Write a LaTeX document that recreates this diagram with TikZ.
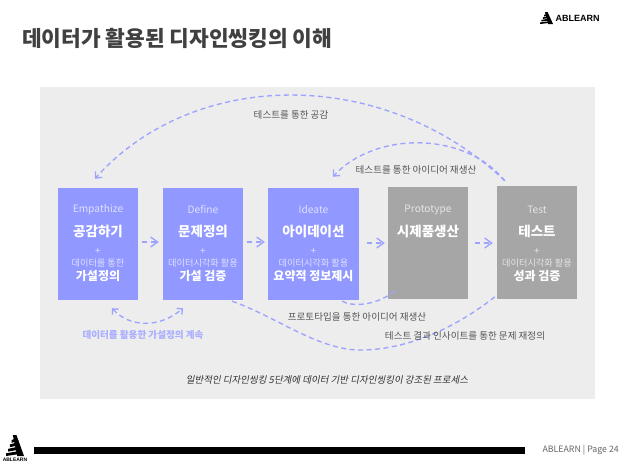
\documentclass[tikz,border=0pt]{standalone}
\usepackage{fontspec}
\usetikzlibrary{arrows.meta}
\setmainfont{Noto Sans CJK KR}
\newfontfamily\cjkit[FakeSlant=0.2]{Noto Sans CJK KR}
\newfontfamily\latin{Liberation Sans}
\definecolor{boxblue}{HTML}{9198FF}
\definecolor{boxgray}{HTML}{A6A6A6}
\definecolor{panel}{HTML}{EDEDED}
\definecolor{dashblue}{HTML}{9DA3FF}
\definecolor{softblue}{HTML}{A9AEFF}
\definecolor{labeltxt}{HTML}{555555}
\newcommand\ablogomark{%
  \fill[black] (0.38,0) -- (0.58,0) -- (1,1) -- (0.62,1) -- cycle;
  \foreach \a in {0.22,0.43,0.64,0.85}{
    \fill[black] ({0.42-0.48*\a},{\a+0.02}) -- (0.55,{\a-0.06}) -- (0.7,{\a+0.06}) -- ({0.42-0.48*\a},{\a+0.15}) -- cycle;
  }%
}
\tikzset{
  stagebox/.style={draw=none,minimum height=112pt,inner sep=0pt,text=white},
  bluebox/.style={stagebox,fill=boxblue,minimum width=80pt},
  graybox/.style={stagebox,fill=boxgray,minimum width=80pt},
  flow/.style={draw=dashblue,line width=1.35pt,dash pattern=on 5pt off 3.5pt},
  tipflow/.style={flow,-{Straight Barb[length=7pt,width=10pt,line width=1.35pt]}},
  tiparc/.style={flow,-{Straight Barb[length=5pt,width=9pt,line width=1.35pt]}},
  tipboth/.style={flow,{Straight Barb[length=4pt,width=8pt,line width=1.35pt]}-{Straight Barb[length=4pt,width=8pt,line width=1.35pt]}},
  note/.style={text=labeltxt,font=\fontsize{9.55}{11}\selectfont,inner sep=0pt},
  eng/.style={font=\fontsize{10.2}{12}\selectfont,inner sep=0pt,text=white,text opacity=0.7},
  head/.style={font=\fontsize{13.5}{15}\selectfont\bfseries,text=white,inner sep=0pt},
  plus/.style={font=\fontsize{10}{11}\selectfont,inner sep=0pt,text=white,text opacity=0.7},
  sub/.style={font=\fontsize{9.2}{11}\selectfont,inner sep=0pt,text=white,text opacity=0.7},
  key/.style={font=\fontsize{12}{14}\selectfont\bfseries,text=white,inner sep=0pt},
  logoword/.style={font=\latin\bfseries,text=black,inner sep=0pt}
}
\begin{document}
\begin{tikzpicture}[x=1pt,y=-1pt]
\useasboundingbox (0,0) rectangle (628,467);
\fill[white] (0,0) rectangle (628,467);
\fill[panel] (40,87) rectangle (595,399);
\node[anchor=west,inner sep=0pt,text=black!75,font=\fontsize{21.4}{24}\selectfont\bfseries] (title) at (22,38) {데이터가 활용된 디자인씽킹의 이해};
% logo top
\begin{scope}[shift={(540,12)},x=13pt,y=-12pt]
  \ablogomark
\end{scope}
\node[logoword,anchor=west,font=\latin\bfseries\fontsize{9}{10}\selectfont] (logotop) at (555.5,18.5) {ABLEARN};
% stages
\node[bluebox] (e) at (98,244) {};
\node[bluebox] (d) at (203,244) {};
\node[bluebox,minimum width=91pt] (i) at (313.5,244) {};
\node[graybox] (p) at (428,243) {};
\node[graybox,minimum height=113pt] (t) at (537,242.5) {};
\foreach \n/\cx/\en/\hd in {e/98/Empathize/공감하기,d/203/Define/문제정의,i/313.5/Ideate/아이데이션,p/428/Prototype/시제품생산,t/537/Test/테스트}{
  \node[eng] at (\cx,209.5) {\en};
  \node[head] at (\cx,231) {\hd};
}
\foreach \cx/\sb/\ky in {98/데이터를 통한/가설정의,203/데이터시각화 활용/가설 검증,313.5/데이터시각화 활용/요약적 정보제시,537/데이터시각화 활용/성과 검증}{
  \node[plus] at (\cx,251.5) {+};
  \node[sub] at (\cx,263) {\sb};
  \node[key] at (\cx,276) {\ky};
}
% forward arrows
\draw[tipflow,shorten <=4pt,shorten >=4pt] ([yshift=2pt]e.east) -- ([yshift=2pt]d.west);
\draw[tipflow,shorten <=4pt,shorten >=3pt] ([yshift=2pt]d.east) -- ([yshift=2pt]i.west);
\draw[tipflow,shorten <=8pt,shorten >=3pt] ([yshift=1pt]i.east) -- ([yshift=0pt]p.west);
\draw[tipflow,shorten <=7pt,shorten >=4pt] ([yshift=0pt]p.east) -- ([yshift=-0.5pt]t.west);
% feedback arcs
\coordinate (tstart) at ([xshift=8pt,yshift=5pt]t.north west);
\coordinate (etip) at ([xshift=37pt,yshift=9pt]e.north west);
\coordinate (itip) at ([xshift=65pt,yshift=11pt]i.north west);
\draw[tiparc] (tstart) .. controls (385,67) and (195,67) .. (etip);
\draw[tiparc] (tstart) .. controls (465,131) and (375,131) .. (itip);
\draw[flow] ([xshift=-17pt,yshift=-1pt]i.south east) .. controls (352,307) and (378,306) .. ([xshift=9pt,yshift=10pt]p.south west);
\draw[flow] ([xshift=29pt,yshift=-1pt]d.south) .. controls (275,316) and (318,350) .. (360,350) .. controls (410,350) and (460,325) .. ([yshift=4pt]t.south west);
\draw[tipboth] ([xshift=14pt,yshift=-8pt]e.south) .. controls (130,328) and (160,328) .. ([xshift=-20pt,yshift=-8pt]d.south);
% labels
\node[note] (l1) at (291,115) {테스트를 통한 공감};
\node[note] (l2) at (416,170) {테스트를 통한 아이디어 재생산};
\node[note] (l3) at (357,317) {프로토타입을 통한 아이디어 재생산};
\node[note] (l4) at (465,336) {테스트 결과 인사이트를 통한 문제 재정의};
\node[note,text=softblue,font=\fontsize{9.55}{11}\selectfont\bfseries] (l5) at (143,335) {데이터를 활용한 가설정의 계속};
\node[inner sep=0pt,text=black!80,font=\cjkit\fontsize{9.5}{11}\selectfont] (cap) at (327,380) {일반적인 디자인씽킹 5단계에 데이터 기반 디자인씽킹이 강조된 프로세스};
% footer
\fill[black] (34,446.5) rectangle (525,454);
\begin{scope}[shift={(6,435)},x=18pt,y=-21pt]
  \ablogomark
\end{scope}
\node[logoword,font=\latin\bfseries\fontsize{5}{5}\selectfont] (logobot) at (15,459.5) {ABLEARN};
\node[anchor=east,inner sep=0pt,text=black!60,font=\fontsize{8.8}{10}\selectfont] (page) at (619,450) {ABLEARN | Page 24};
\end{tikzpicture}
\end{document}
